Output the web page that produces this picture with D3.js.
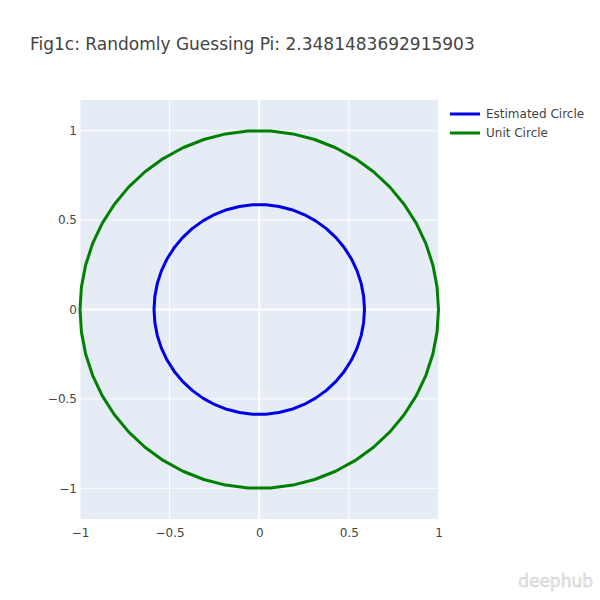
<!DOCTYPE html>
<html>
<head>
<meta charset="utf-8">
<script src="https://cdn.jsdelivr.net/npm/d3@7"></script>
<style>
body{margin:0;background:#fff;}
text{font-family:"DejaVu Sans",Verdana,sans-serif;}
</style>
</head>
<body>
<svg id="chart" width="600" height="600"></svg>
<script>
const titleText = "Fig1c: Randomly Guessing Pi: 2.3481483692915903";
const seriesNames = ["Estimated Circle", "Unit Circle"];
const seriesRadii = [2.3481483692915903 / 4, 1];
const seriesColors = ["#0000e6", "#008000"];
const pointsPerCircle = 50;
const xTicks = [-1, -0.5, 0, 0.5, 1];
const yTicks = [-1, -0.5, 0, 0.5, 1];
const xDomain = [-1, 1];
const yDomain = [-1.172, 1.172];

const svg = d3.select("#chart");
const plot = {left: 80, top: 100, width: 358.5, height: 419};

const x = d3.scaleLinear().domain(xDomain).range([plot.left, plot.left + plot.width]);
const y = d3.scaleLinear().domain(yDomain).range([plot.top + plot.height, plot.top]);

svg.append("rect").attr("x", plot.left).attr("y", plot.top)
  .attr("width", plot.width).attr("height", plot.height).attr("fill", "#e5ecf6");

const fmt = v => (v < 0 ? "\u2212" : "") + Math.abs(v);

// gridlines
const g = svg.append("g");
g.selectAll(".gx").data(xTicks).join("line")
  .attr("x1", d => x(d)).attr("x2", d => x(d))
  .attr("y1", plot.top).attr("y2", plot.top + plot.height)
  .attr("stroke", "#fff").attr("stroke-width", d => d === 0 ? 2 : 1);
g.selectAll(".gy").data(yTicks).join("line")
  .attr("y1", d => y(d)).attr("y2", d => y(d))
  .attr("x1", plot.left).attr("x2", plot.left + plot.width)
  .attr("stroke", "#fff").attr("stroke-width", d => d === 0 ? 2 : 1);

// axes
const xAxis = d3.axisBottom(x).tickValues(xTicks).tickFormat(fmt).tickSize(0).tickPadding(9);
const yAxis = d3.axisLeft(y).tickValues(yTicks).tickFormat(fmt).tickSize(0).tickPadding(3);
const gx = svg.append("g").attr("transform", `translate(0,${plot.top + plot.height})`).call(xAxis);
const gy = svg.append("g").attr("transform", `translate(${plot.left},0)`).call(yAxis);
[gx, gy].forEach(a => {
  a.select(".domain").remove();
  a.selectAll("text").attr("fill", "#444").style("font-size", "12px")
    .style("font-family", "'DejaVu Sans',Verdana,sans-serif");
});

// circles
const line = d3.line().x(d => x(d[0])).y(d => y(d[1]));
const idx = d3.range(pointsPerCircle + 1);
seriesRadii.forEach((r, i) => {
  const pts = idx.map(k => {
    const t = 2 * Math.PI * k / pointsPerCircle;
    return [r * Math.cos(t), r * Math.sin(t)];
  });
  svg.append("path").datum(pts).attr("d", line)
    .attr("fill", "none").attr("stroke", seriesColors[i]).attr("stroke-width", 3)
    .attr("stroke-linejoin", "round");
});

// title
svg.append("text").attr("x", 30).attr("y", 50).text(titleText)
  .attr("fill", "#444").style("font-size", "17px");

// legend
const leg = svg.append("g").attr("transform", "translate(450,114)");
seriesNames.forEach((n, i) => {
  const row = leg.append("g").attr("transform", `translate(0,${i * 19})`);
  row.append("line").attr("x1", 0).attr("x2", 30).attr("y1", 0).attr("y2", 0)
    .attr("stroke", seriesColors[i]).attr("stroke-width", 3);
  row.append("text").attr("x", 36).attr("y", 4).text(n)
    .attr("fill", "#444").style("font-size", "12px");
});

// watermark
svg.append("text").attr("x", 593).attr("y", 587).attr("text-anchor", "end")
  .text("deephub").attr("fill", "#e8e8e8").attr("stroke", "#cfcfcf").attr("stroke-width", 0.5)
  .style("font-size", "17px");
</script>
</body>
</html>
